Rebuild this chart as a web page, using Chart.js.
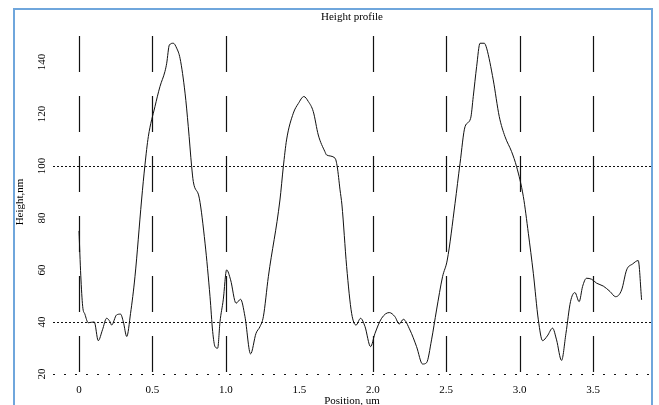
<!DOCTYPE html>
<html>
<head>
<meta charset="utf-8">
<script src="https://cdn.jsdelivr.net/npm/chart.js@4"></script>
<style>
  html, body { margin: 0; padding: 0; background: #fff; }
  #wrap { width: 659px; height: 405px; }
</style>
</head>
<body>
<div id="wrap"><canvas id="myChart" width="659" height="405"></canvas></div>
<script>
// profile: position (um) and height (nm)
const positions = [
  0, 0.012, 0.025, 0.04, 0.063, 0.104, 0.131, 0.16, 0.188, 0.211, 0.222, 0.256, 0.283, 0.302, 0.325, 0.351,
  0.381, 0.426, 0.449, 0.472, 0.517, 0.551, 0.585, 0.597, 0.615, 0.642, 0.665, 0.688, 0.722, 0.744, 0.767,
  0.778, 0.819, 0.858, 0.892, 0.91, 0.926, 0.944, 0.96, 0.982, 1.005, 1.032, 1.069, 1.1, 1.13, 1.168,
  1.205, 1.232, 1.255, 1.289, 1.368, 1.391, 1.413, 1.459, 1.493, 1.531, 1.561, 1.595, 1.629, 1.674, 1.686,
  1.743, 1.758, 1.777, 1.79, 1.822, 1.856, 1.886, 1.917, 1.947, 1.985, 2.015, 2.06, 2.112, 2.151, 2.18,
  2.208, 2.253, 2.298, 2.339, 2.366, 2.4, 2.434, 2.475, 2.507, 2.56, 2.594, 2.628, 2.666, 2.684, 2.707,
  2.73, 2.759, 2.775, 2.82, 2.861, 2.9, 2.945, 2.979, 3.025, 3.059, 3.093, 3.127, 3.156, 3.188, 3.224,
  3.251, 3.285, 3.315, 3.346, 3.376, 3.405, 3.428, 3.455, 3.49, 3.524, 3.569, 3.615, 3.653, 3.694, 3.728,
  3.769, 3.807, 3.83
];
const heights = [
  75, 58, 46, 43, 39.7, 40, 32.8, 37, 41.4, 40.1, 38.8, 42.7, 43, 40, 34.4, 43.3,
  57.4, 86.9, 100.4, 111.3, 122.8, 130.5, 136.3, 139.5, 146.5, 147.2, 145.3, 141.4, 128, 115.1, 99.7,
  94, 87.6, 70.3, 49.7, 36.3, 30.5, 29.9, 40.1, 48.5, 60, 56.2, 47.2, 48.7, 42, 27.7,
  35.6, 38.2, 42, 57.4, 86.9, 99.7, 110, 120.3, 124, 126.7, 124.8, 120.9, 111.9, 105.5, 104.2,
  103, 99.7, 90.8, 85, 61.3, 43.3, 38.8, 41.4, 38.2, 30.5, 35.6, 41.4, 43.6, 42, 39.2,
  41, 36.9, 30.5, 23.8, 24.3, 33.1, 44.6, 57.4, 63.8, 85.6, 101, 115.1, 118.3, 126.7, 138.2,
  147.2, 147.2, 145.3, 133.1, 119, 111.3, 105.5, 99.7, 88.2, 74.1, 58.7, 40.8, 32.8, 34.6, 37.6,
  33.1, 25.2, 35.6, 47.8, 51.3, 47.8, 53.6, 56.8, 56.4, 54.9, 53.8, 51.7, 49.7, 52.3, 60,
  62.3, 63.6, 48.5
];

const xTicks = [0, 0.5, 1.0, 1.5, 2.0, 2.5, 3.0, 3.5];
const yTicks = [20, 40, 60, 80, 100, 120, 140];
const vLines = [0, 0.5, 1.0, 2.0, 2.5, 3.0, 3.5];   // long-dash markers
const hLines = [100, 40];                          // fine dotted
const hLinesSparse = [20];                         // sparse dotted

const serif = "'Liberation Serif', 'DejaVu Serif', serif";

const frameAndLines = {
  id: "frameAndLines",
  beforeDraw(chart) {
    const ctx = chart.ctx;
    ctx.save();
    ctx.fillStyle = "#fff";
    ctx.fillRect(0, 0, chart.width, chart.height);
    ctx.strokeStyle = "#6fa6dc";
    ctx.lineWidth = 2;
    ctx.strokeRect(14, 9, 638, 420);
    ctx.restore();
  },
  beforeDatasetsDraw(chart) {
    const { ctx, chartArea: a, scales: { x, y } } = chart;
    ctx.save();
    ctx.strokeStyle = "#111";
    ctx.lineWidth = 1;
    ctx.setLineDash([2, 2]);
    hLines.forEach((v) => {
      const py = Math.round(y.getPixelForValue(v)) + 0.5;
      ctx.beginPath(); ctx.moveTo(a.left, py); ctx.lineTo(a.right, py); ctx.stroke();
    });
    ctx.setLineDash([2, 9]);
    hLinesSparse.forEach((v) => {
      const py = Math.round(y.getPixelForValue(v)) + 0.5;
      ctx.beginPath(); ctx.moveTo(a.left, py); ctx.lineTo(a.right, py); ctx.stroke();
    });
    ctx.setLineDash([36, 24]);
    ctx.lineWidth = 1.2;
    vLines.forEach((v) => {
      const px = Math.round(x.getPixelForValue(v)) + 0.5;
      ctx.beginPath(); ctx.moveTo(px, a.top + 12); ctx.lineTo(px, a.bottom); ctx.stroke();
    });
    ctx.restore();
  },
};

const ctx = document.getElementById("myChart").getContext("2d");
const chart = new Chart(ctx, {
  type: "line",
  data: {
    datasets: [
      {
        label: "Height",
        data: positions.map((p, i) => ({ x: p, y: heights[i] })),
        borderColor: "#111",
        borderWidth: 1,
        pointRadius: 0,
        cubicInterpolationMode: "monotone",
        fill: false,
      },
    ],
  },
  options: {
    responsive: false,
    animation: false,
    layout: { padding: { left: 6.2, right: 8, top: 0, bottom: 3 } },
    plugins: {
      legend: { display: false },
      tooltip: { enabled: false },
      title: {
        display: true,
        text: "Height profile",
        color: "#000",
        fullSize: false,
        font: { family: serif, size: 11, weight: "normal", lineHeight: 1.2 },
        padding: { top: 10.4, bottom: 0.4 },
      },
    },
    scales: {
      x: {
        type: "linear",
        min: -0.177,
        max: 3.894,
        afterBuildTicks: (s) => { s.ticks = xTicks.map((v) => ({ value: v })); },
        grid: { display: false, drawTicks: false },
        border: { display: false },
        ticks: {
          color: "#000",
          padding: 5,
          maxRotation: 0,
          font: { family: serif, size: 11, lineHeight: 1 },
          callback: (v) => (v === 0 ? "0" : Number(v).toFixed(1)),
        },
        title: {
          display: true,
          text: "Position, um",
          color: "#000",
          padding: 0,
          font: { family: serif, size: 11, lineHeight: 0.1 },
        },
      },
      y: {
        min: 17.7,
        max: 154.6,
        afterBuildTicks: (s) => { s.ticks = yTicks.map((v) => ({ value: v })); },
        grid: { display: false, drawTicks: false },
        border: { display: false },
        ticks: {
          color: "#000",
          padding: 3,
          minRotation: 90,
          maxRotation: 90,
          crossAlign: "center",
          font: { family: serif, size: 11 },
        },
        title: {
          display: true,
          text: "Height,nm",
          color: "#000",
          padding: 7.2,
          font: { family: serif, size: 11 },
        },
      },
    },
  },
  plugins: [frameAndLines],
});
</script>
</body>
</html>
